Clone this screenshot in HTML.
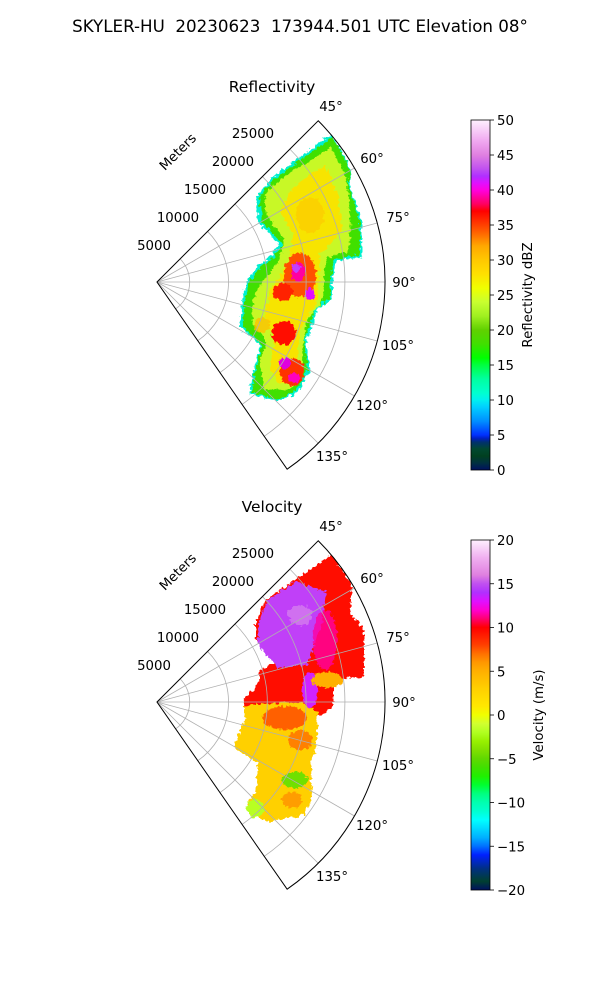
<!DOCTYPE html>
<html><head><meta charset="utf-8"><style>
html,body{margin:0;padding:0;background:#fff}
svg{display:block}
text{font-family:"DejaVu Sans","Liberation Sans",sans-serif;fill:#000;white-space:pre}
</style></head><body>
<svg id="s" width="600" height="1000" viewBox="0 0 600 1000" xmlns="http://www.w3.org/2000/svg" xml:space="preserve">
<defs>
<filter id="rough" x="-10%" y="-10%" width="120%" height="120%">
<feTurbulence type="fractalNoise" baseFrequency="0.25" numOctaves="2" seed="3" result="n"/>
<feDisplacementMap in="SourceGraphic" in2="n" scale="7" xChannelSelector="R" yChannelSelector="G"/>
</filter>
<filter id="soft" x="-20%" y="-20%" width="140%" height="140%">
<feGaussianBlur stdDeviation="2"/>
<feTurbulence type="fractalNoise" baseFrequency="0.3" numOctaves="2" seed="7" result="n"/>
<feDisplacementMap in="SourceGraphic" in2="n" scale="6" xChannelSelector="R" yChannelSelector="G"/>
</filter>
<linearGradient id="gR" x1="0" y1="1" x2="0" y2="0">
<stop offset="0" stop-color="#001060"/><stop offset="0.02" stop-color="#003040"/><stop offset="0.04" stop-color="#004020"/><stop offset="0.06" stop-color="#004830"/><stop offset="0.08" stop-color="#003070"/><stop offset="0.09" stop-color="#0020c0"/><stop offset="0.1" stop-color="#0030ff"/><stop offset="0.12" stop-color="#0060ff"/><stop offset="0.14" stop-color="#0090ff"/><stop offset="0.16" stop-color="#00b0ff"/><stop offset="0.18" stop-color="#00d0ff"/><stop offset="0.2" stop-color="#00f0f0"/><stop offset="0.22" stop-color="#00ffd0"/><stop offset="0.26" stop-color="#00ffa0"/><stop offset="0.3" stop-color="#00ff40"/><stop offset="0.32" stop-color="#00ff00"/><stop offset="0.36" stop-color="#40e000"/><stop offset="0.4" stop-color="#60d000"/><stop offset="0.44" stop-color="#a0f020"/><stop offset="0.48" stop-color="#c8ff30"/><stop offset="0.52" stop-color="#f0ff00"/><stop offset="0.56" stop-color="#ffe000"/><stop offset="0.6" stop-color="#ffc800"/><stop offset="0.64" stop-color="#ffa800"/><stop offset="0.68" stop-color="#ff6000"/><stop offset="0.72" stop-color="#ff2000"/><stop offset="0.74" stop-color="#ff0000"/><stop offset="0.76" stop-color="#ff0060"/><stop offset="0.8" stop-color="#ff00e0"/><stop offset="0.82" stop-color="#e010ff"/><stop offset="0.84" stop-color="#b030ff"/><stop offset="0.86" stop-color="#c050f0"/><stop offset="0.9" stop-color="#e080e0"/><stop offset="0.94" stop-color="#f0a8f0"/><stop offset="1" stop-color="#fff0ff"/>
</linearGradient>
<linearGradient id="gV" x1="0" y1="1" x2="0" y2="0">
<stop offset="0" stop-color="#001060"/><stop offset="0.025" stop-color="#004030"/><stop offset="0.06" stop-color="#003080"/><stop offset="0.1" stop-color="#0020ff"/><stop offset="0.125" stop-color="#0070ff"/><stop offset="0.15" stop-color="#00b0ff"/><stop offset="0.175" stop-color="#00d8ff"/><stop offset="0.2" stop-color="#00ffff"/><stop offset="0.225" stop-color="#00ffd0"/><stop offset="0.25" stop-color="#00ffb0"/><stop offset="0.275" stop-color="#00ff80"/><stop offset="0.3" stop-color="#00ff30"/><stop offset="0.325" stop-color="#20f000"/><stop offset="0.35" stop-color="#40e000"/><stop offset="0.375" stop-color="#60d800"/><stop offset="0.4" stop-color="#80e000"/><stop offset="0.425" stop-color="#98f000"/><stop offset="0.45" stop-color="#b0ff20"/><stop offset="0.475" stop-color="#d0ff30"/><stop offset="0.5" stop-color="#f0ff00"/><stop offset="0.525" stop-color="#ffe800"/><stop offset="0.575" stop-color="#ffd000"/><stop offset="0.625" stop-color="#ffb000"/><stop offset="0.65" stop-color="#ff9800"/><stop offset="0.675" stop-color="#ff7000"/><stop offset="0.7" stop-color="#ff4000"/><stop offset="0.725" stop-color="#ff2000"/><stop offset="0.75" stop-color="#ff0000"/><stop offset="0.775" stop-color="#ff0070"/><stop offset="0.8" stop-color="#ff00d0"/><stop offset="0.825" stop-color="#e010ff"/><stop offset="0.85" stop-color="#b030ff"/><stop offset="0.875" stop-color="#c050f0"/><stop offset="0.9" stop-color="#e080e0"/><stop offset="0.95" stop-color="#f0b0f0"/><stop offset="1" stop-color="#fff0ff"/>
</linearGradient>
</defs>
<text x="300" y="32" font-size="16.7" text-anchor="middle">SKYLER-HU  20230623  173944.501 UTC Elevation 08°</text>
<text x="272" y="92" font-size="15.5" text-anchor="middle">Reflectivity</text>
<text x="272" y="512" font-size="15.5" text-anchor="middle">Velocity</text>

<clipPath id="c1"><path id="sec1"/></clipPath>
<g clip-path="url(#c1)">
<g filter="url(#rough)">
<polygon fill="#00f0d0" points="332,134 351,169 349,183 362,221 362,257 336,261 332,280 332,299 317,309 312,327 306,340 310,370 297,393 277,401 250,394 253,373 260,345 240,327 241,306 246,281 260,264 270,257 279,244 259,223 256,197 270,179 293,162 311,149"/>
<polygon fill="#40e000" points="333,137 350,170 348,184 360,222 360,255 334,259 330,280 330,298 315,308 310,326 304,340 308,370 295,391 277,399 252,392 255,373 262,345 243,326 244,306 249,282 262,266 272,259 282,245 262,222 259,198 272,181 294,165 312,152"/>
<polygon fill="#c8f828" points="331,147 346,176 351,222 349,251 326,258 323,300 307,320 303,345 301,376 289,391 264,389 260,362 266,341 252,321 253,301 260,285 279,261 284,240 267,215 265,194 289,173 315,158"/>
<polygon fill="#ffe000" opacity="0.85" points="325,165 338,195 342,230 320,255 318,300 300,330 297,370 280,385 270,370 274,340 265,315 270,290 290,262 293,235 280,210 295,185"/>
</g>
<g filter="url(#soft)">
<ellipse cx="310" cy="215" rx="14" ry="18" fill="#ffc000" opacity="0.5"/>
<ellipse cx="300" cy="275" rx="16" ry="22" fill="#ff5000"/>
<ellipse cx="283" cy="292" rx="10" ry="9" fill="#ff2000"/>
<ellipse cx="284" cy="333" rx="12" ry="12" fill="#ff1000"/>
<ellipse cx="292" cy="372" rx="12" ry="14" fill="#ff3000"/>
<ellipse cx="298" cy="272" rx="7" ry="10" fill="#ff00a0"/>
<ellipse cx="310" cy="294" rx="5" ry="6" fill="#e010ff"/>
<ellipse cx="296" cy="268" rx="4" ry="5" fill="#c040ff"/>
<ellipse cx="285" cy="363" rx="6" ry="6" fill="#e000e0"/>
<ellipse cx="294" cy="378" rx="6" ry="5" fill="#ff00c0"/>
<ellipse cx="262" cy="325" rx="8" ry="8" fill="#ffc000" opacity="0.8"/>
</g>
</g>

<clipPath id="c2"><path id="sec2"/></clipPath>
<g clip-path="url(#c2)">
<g filter="url(#rough)">
<polygon fill="#ff1000" points="332,553 352,586 350,613 364,630 364,677 333,679 333,707 317,717 315,747 310,763 311,797 303,814 267,821 247,808 257,790 259,763 234,747 246,720 244,700 259,683 259,670 276,663 256,640 256,620 266,600 292,582 312,569"/>
<polygon fill="#ffd000" points="244,705 301,702 318,712 316,747 311,763 312,797 304,815 267,822 246,808 256,790 258,763 233,747 245,720"/>
<polygon fill="#c040f8" points="258,625 268,600 296,581 326,592 322,623 307,665 278,668 258,645"/>
</g>
<g filter="url(#soft)">
<ellipse cx="325" cy="640" rx="12" ry="30" fill="#ff00a0" opacity="0.8"/>
<ellipse cx="310" cy="690" rx="8" ry="18" fill="#d020ff"/>
<ellipse cx="300" cy="615" rx="12" ry="10" fill="#d070f0"/>
<ellipse cx="327" cy="680" rx="16" ry="8" fill="#ffb000"/>
<ellipse cx="285" cy="718" rx="22" ry="12" fill="#ff6000"/>
<ellipse cx="300" cy="740" rx="12" ry="10" fill="#ff8000"/>
<ellipse cx="295" cy="780" rx="13" ry="8" fill="#70e000"/>
<ellipse cx="255" cy="808" rx="9" ry="9" fill="#b8ff20"/>
<ellipse cx="292" cy="800" rx="10" ry="8" fill="#ff9000" opacity="0.8"/>
</g>
</g>

<g id="grid1"></g>
<g id="grid2"></g>

<rect x="471" y="120" width="19" height="350" fill="url(#gR)" stroke="#000" stroke-width="0.8"/>
<rect x="471" y="540" width="19" height="350" fill="url(#gV)" stroke="#000" stroke-width="0.8"/>
<g id="cb" font-size="13.3"></g>
<text font-size="13.3" text-anchor="middle" transform="translate(532,295) rotate(-90)">Reflectivity dBZ</text>
<text font-size="13.3" text-anchor="middle" transform="translate(543,715) rotate(-90)">Velocity (m/s)</text>
</svg>
<script>
const NS="http://www.w3.org/2000/svg";
function el(p,t,a,txt){const e=document.createElementNS(NS,t);for(const k in a)e.setAttribute(k,a[k]);if(txt!==undefined)e.textContent=txt;p.appendChild(e);return e;}
function P(cx,cy,r,b){const a=b*Math.PI/180;return [cx+r*Math.sin(a),cy-r*Math.cos(a)];}
const R=228,B0=45,B1=145.2;
function panel(gid,secid,cy){
 const cx=157,g=document.getElementById(gid);
 const s=P(cx,cy,R,B0),e=P(cx,cy,R,B1);
 const sec=`M${cx},${cy} L${s[0]},${s[1]} A${R},${R} 0 0 1 ${e[0]},${e[1]} Z`;
 document.getElementById(secid).setAttribute('d',sec);
 [60,75,90,105,120,135].forEach(b=>{const p=P(cx,cy,R,b);el(g,'line',{x1:cx,y1:cy,x2:p[0],y2:p[1],stroke:'#b0b0b0','stroke-width':0.8});});
 for(let k=0;k<5;k++){const r=32.7+38.8*k;const a=P(cx,cy,r,B0),b=P(cx,cy,r,B1);
  el(g,'path',{d:`M${a[0]},${a[1]} A${r},${r} 0 0 1 ${b[0]},${b[1]}`,fill:'none',stroke:'#b0b0b0','stroke-width':0.8});}
 el(g,'path',{d:sec,fill:'none',stroke:'#000','stroke-width':1});
 const lab=[[45,331,-176],[60,372,-124],[75,398,-65],[90,404,0],[105,398,63],[120,372,123],[135,332,174]];
 lab.forEach(l=>el(g,'text',{x:l[1],y:cy+l[2]+5,'font-size':13.3,'text-anchor':'middle'},l[0]+'°'));
 const rl=[['25000',253,-149],['20000',233,-121],['15000',205,-93],['10000',178,-65],['5000',154,-37]];
 rl.forEach(l=>el(g,'text',{x:l[1],y:cy+l[2]+5,'font-size':13.3,'text-anchor':'middle'},l[0]));
 el(g,'text',{'font-size':13.3,'text-anchor':'middle',transform:`translate(181,${cy-127}) rotate(-45)`},'Meters');
}
panel('grid1','sec1',282);panel('grid2','sec2',702);
const cb=document.getElementById('cb');
for(let v=0;v<=50;v+=5){const y=470-v*7;el(cb,'line',{x1:490,y1:y,x2:494,y2:y,stroke:'#000','stroke-width':0.8});el(cb,'text',{x:497,y:y+5},String(v));}
for(let v=-20;v<=20;v+=5){const y=890-(v+20)*8.75;el(cb,'line',{x1:490,y1:y,x2:494,y2:y,stroke:'#000','stroke-width':0.8});el(cb,'text',{x:497,y:y+5},v<0?'\u2212'+(-v):String(v));}
</script>
</body></html>
